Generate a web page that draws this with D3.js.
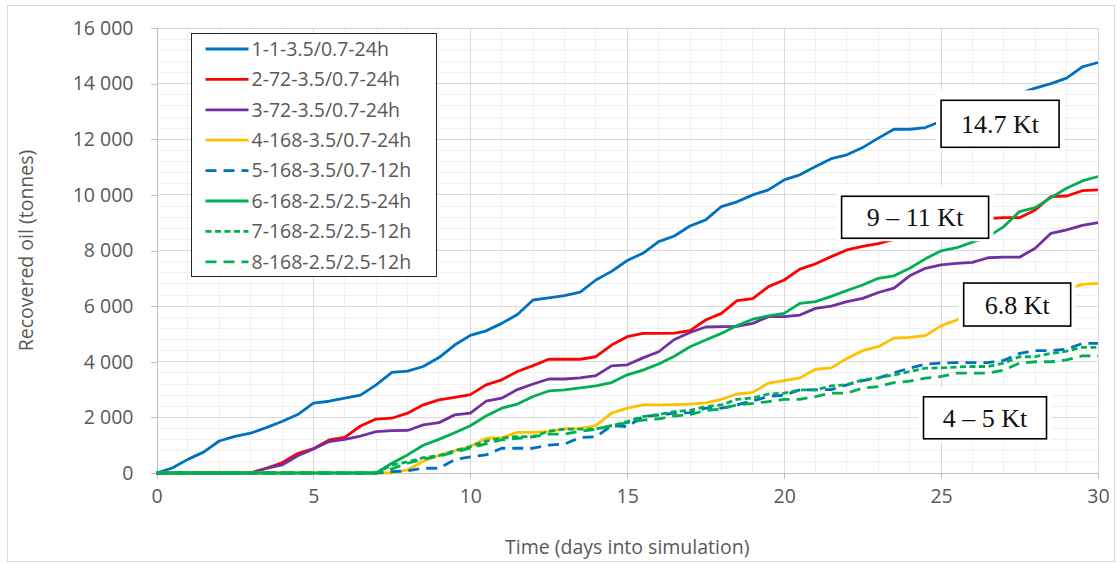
<!DOCTYPE html>
<html>
<head>
<meta charset="utf-8">
<script src="https://cdn.jsdelivr.net/npm/d3@7"></script>
<style>
  body { margin: 0; background: #fff; }
  svg { display: block; font-family: "Open Sans", sans-serif; }
</style>
</head>
<body>
<div id="chart"></div>
<script>
const width = 1120,
      height = 564;

// x values of every sample (days into simulation)
const days = [0, 0.5, 1, 1.5, 2, 2.5, 3, 3.5, 4, 4.5, 5, 5.5, 6, 6.5, 7, 7.5, 8, 8.5, 9, 9.5,
  10, 10.5, 11, 11.5, 12, 12.5, 13, 13.5, 14, 14.5, 15, 15.5, 16, 16.5, 17, 17.5, 18, 18.5, 19, 19.5,
  20, 20.5, 21, 21.5, 22, 22.5, 23, 23.5, 24, 24.5, 25, 25.5, 26, 26.5, 27, 27.5, 28, 28.5, 29, 29.5, 30];

const seriesNames = ["1-1-3.5/0.7-24h", "2-72-3.5/0.7-24h", "3-72-3.5/0.7-24h", "4-168-3.5/0.7-24h",
  "5-168-3.5/0.7-12h", "6-168-2.5/2.5-24h", "7-168-2.5/2.5-12h", "8-168-2.5/2.5-12h"];

const s1 = [0, 180, 490, 750, 1150, 1320, 1430, 1630, 1850, 2100, 2510, 2580, 2690, 2800, 3170, 3620, 3660, 3830, 4150, 4600,
  4950, 5110, 5380, 5700, 6220, 6300, 6380, 6500, 6940, 7250, 7640, 7900, 8320, 8520, 8880, 9100, 9580, 9750, 10000, 10180,
  10540, 10720, 11020, 11300, 11440, 11700, 12040, 12360, 12360, 12420, 12650, 12850, 13050, 13250, 13450, 13650, 13840, 14000, 14200, 14600, 14760];
const s2 = [0, 0, 0, 0, 0, 0, 0, 170, 370, 700, 875, 1190, 1280, 1690, 1940, 1970, 2150, 2450, 2630, 2720,
  2820, 3170, 3350, 3650, 3860, 4090, 4090, 4090, 4180, 4600, 4900, 5020, 5020, 5030, 5120, 5500, 5740, 6200, 6270, 6700,
  6940, 7330, 7520, 7780, 8020, 8150, 8250, 8400, 8550, 8650, 8800, 8900, 9050, 9150, 9180, 9180, 9460, 9940, 9960, 10150, 10180];
const s3 = [0, 0, 0, 0, 0, 0, 0, 170, 290, 620, 860, 1130, 1210, 1330, 1490, 1520, 1530, 1730, 1810, 2090,
  2150, 2580, 2690, 3000, 3200, 3380, 3380, 3420, 3500, 3850, 3890, 4140, 4360, 4800, 5050, 5250, 5260, 5270, 5380, 5620,
  5620, 5680, 5920, 6000, 6160, 6280, 6490, 6650, 7090, 7360, 7480, 7540, 7570, 7740, 7760, 7760, 8080, 8620, 8740, 8900, 9000];
const s4 = [0, 0, 0, 0, 0, 0, 0, 0, 0, 0, 0, 0, 0, 0, 0, 0, 110, 420, 640, 800,
  950, 1250, 1270, 1460, 1460, 1500, 1590, 1600, 1700, 2150, 2330, 2450, 2450, 2460, 2480, 2520, 2650, 2840, 2900, 3230,
  3320, 3420, 3730, 3780, 4120, 4400, 4540, 4850, 4880, 4940, 5290, 5500, 5750, 5950, 6150, 6300, 6450, 6550, 6600, 6780, 6820];
const s5 = [0, 0, 0, 0, 0, 0, 0, 0, 0, 0, 0, 0, 0, 0, 0, 50, 80, 170, 170, 480,
  580, 650, 890, 890, 890, 1000, 1040, 1280, 1300, 1700, 1670, 2030, 2080, 2150, 2170, 2330, 2330, 2450, 2600, 2750,
  2800, 2990, 2990, 3000, 3170, 3320, 3410, 3600, 3770, 3910, 3950, 3970, 3970, 3970, 4050, 4300, 4400, 4400, 4450, 4660, 4660];
const s6 = [0, 0, 0, 0, 0, 0, 0, 0, 0, 0, 0, 0, 0, 0, 0, 350, 650, 1000, 1210, 1450,
  1700, 2050, 2330, 2480, 2750, 2950, 2990, 3060, 3130, 3250, 3530, 3700, 3920, 4200, 4540, 4780, 5020, 5300, 5530, 5650,
  5740, 6100, 6160, 6350, 6560, 6760, 7000, 7090, 7360, 7700, 7990, 8100, 8300, 8500, 8860, 9400, 9540, 9900, 10240, 10500, 10660];
const s7 = [0, 0, 0, 0, 0, 0, 0, 0, 0, 0, 0, 0, 0, 0, 0, 290, 400, 550, 620, 800,
  950, 1150, 1250, 1310, 1310, 1500, 1580, 1580, 1580, 1700, 1850, 2030, 2100, 2210, 2250, 2390, 2450, 2650, 2700, 2840,
  2870, 2990, 2990, 3130, 3180, 3350, 3420, 3530, 3650, 3770, 3780, 3810, 3830, 3830, 3950, 4180, 4180, 4300, 4380, 4520, 4520];
const s8 = [0, 0, 0, 0, 0, 0, 0, 0, 0, 0, 0, 0, 0, 0, 0, 150, 350, 500, 600, 750,
  900, 1050, 1190, 1250, 1300, 1400, 1400, 1500, 1570, 1700, 1810, 1900, 1950, 2050, 2100, 2250, 2300, 2450, 2500, 2570,
  2650, 2650, 2750, 2870, 2870, 3050, 3110, 3250, 3300, 3410, 3470, 3590, 3590, 3590, 3700, 3950, 4000, 4000, 4070, 4210, 4210];

const seriesValues = [s1, s2, s3, s4, s5, s6, s7, s8];
const seriesColors = ["#0070C0", "#FF0000", "#7030A0", "#FFC000", "#0070C0", "#00B050", "#00B050", "#00B050"];
const seriesDash = [null, null, null, null, "11,7", null, "6,3.5", "11,7"];

const xTicks = [0, 5, 10, 15, 20, 25, 30];
const yTicks = [0, 2000, 4000, 6000, 8000, 10000, 12000, 14000, 16000];

// annotation boxes: text and the day / value of the box's left-top corner
const notes = [
  { text: "14.7 Kt", day: 25.0, val: 13400, w: 118, h: 47 },
  { text: "9 \u2013 11 Kt", day: 21.83, val: 9950, w: 147, h: 42 },
  { text: "6.8 Kt", day: 25.72, val: 6830, w: 107, h: 43 },
  { text: "4 \u2013 5 Kt", day: 24.44, val: 2740, w: 123, h: 42 }
];

const margin = { top: 28, right: 22, bottom: 91, left: 156.5 };

const x = d3.scaleLinear()
    .domain([0, 30])
    .range([margin.left, width - margin.right]);

const y = d3.scaleLinear()
    .domain([0, 16000])
    .range([height - margin.bottom, margin.top]);

const fmt = d3.formatLocale({ decimal: ".", thousands: " ", grouping: [3], currency: ["", ""] }).format(",");

const svg = d3.select("#chart")
  .append("svg")
    .attr("width", width)
    .attr("height", height);

// chart border
svg.append("rect")
    .attr("x", 7.5).attr("y", 5.5)
    .attr("width", width - 13).attr("height", height - 8)
    .attr("fill", "none")
    .attr("stroke", "#d9d9d9");

// minor gridlines
const grid = svg.append("g").attr("shape-rendering", "crispEdges");
grid.selectAll(".vminor")
  .data(d3.range(1, 30).filter(d => d % 5 !== 0))
  .enter().append("line")
    .attr("x1", x).attr("x2", x)
    .attr("y1", y(0)).attr("y2", y(16000))
    .attr("stroke", "#f0f0f0");
grid.selectAll(".hminor")
  .data(d3.range(400, 16000, 400).filter(d => d % 2000 !== 0))
  .enter().append("line")
    .attr("x1", x(0)).attr("x2", x(30))
    .attr("y1", y).attr("y2", y)
    .attr("stroke", "#f0f0f0");

// major gridlines
grid.selectAll(".vmajor")
  .data(xTicks.slice(1))
  .enter().append("line")
    .attr("x1", x).attr("x2", x)
    .attr("y1", y(0)).attr("y2", y(16000))
    .attr("stroke", "#d9d9d9");
grid.selectAll(".hmajor")
  .data(yTicks.slice(1))
  .enter().append("line")
    .attr("x1", x(0)).attr("x2", x(30))
    .attr("y1", y).attr("y2", y)
    .attr("stroke", "#d9d9d9");

// axes
const xAxis = svg.append("g")
    .attr("transform", `translate(0,${y(0)})`)
    .call(d3.axisBottom(x).tickValues(xTicks).tickSize(6).tickPadding(10));
const yAxis = svg.append("g")
    .attr("transform", `translate(${x(0)},0)`)
    .call(d3.axisLeft(y).tickValues(yTicks).tickSize(6).tickPadding(17).tickFormat(fmt));

[xAxis, yAxis].forEach(a => {
  a.selectAll("path, line").attr("stroke", "#bfbfbf").attr("shape-rendering", "crispEdges");
  a.selectAll("text").attr("fill", "#595959").style("font-size", "19.5px").style("font-family", "Open Sans");
});

// axis titles
svg.append("text")
    .attr("x", (x(0) + x(30)) / 2)
    .attr("y", 554)
    .attr("text-anchor", "middle")
    .attr("fill", "#595959")
    .style("font-size", "19.5px")
    .text("Time (days into simulation)");

svg.append("text")
    .attr("transform", `translate(33,${(y(0) + y(16000)) / 2}) rotate(-90)`)
    .attr("text-anchor", "middle")
    .attr("fill", "#595959")
    .style("font-size", "19.5px")
    .text("Recovered oil (tonnes)");

// series lines
const line = d3.line()
    .x((d, i) => x(days[i]))
    .y(d => y(d));

svg.append("g")
  .selectAll("path")
  .data(seriesValues)
  .enter().append("path")
    .attr("fill", "none")
    .attr("stroke", (d, i) => seriesColors[i])
    .attr("stroke-width", 2.8)
    .attr("stroke-linejoin", "round")
    .attr("stroke-dasharray", (d, i) => seriesDash[i])
    .attr("d", line);

// annotation boxes
const noteG = svg.append("g")
  .selectAll("g")
  .data(notes)
  .enter().append("g")
    .attr("transform", d => `translate(${x(d.day)},${y(d.val)})`);

noteG.append("rect")
    .attr("x", -5).attr("y", -10)
    .attr("width", d => d.w + 10).attr("height", d => d.h + 13)
    .attr("fill", "#fff");
noteG.append("rect")
    .attr("width", d => d.w).attr("height", d => d.h)
    .attr("fill", "#fff")
    .attr("stroke", "#000")
    .attr("stroke-width", 1.6);
noteG.append("text")
    .attr("x", d => d.w / 2)
    .attr("y", d => d.h / 2)
    .attr("dy", "0.35em")
    .attr("text-anchor", "middle")
    .attr("fill", "#111")
    .style("font-family", "Liberation Serif, Times New Roman, serif")
    .style("font-size", "26px")
    .text(d => d.text);

// legend
const legend = svg.append("g")
    .attr("transform", "translate(191.5,33.5)");

legend.append("rect")
    .attr("width", 245).attr("height", 243)
    .attr("fill", "#fff")
    .attr("stroke", "#262626")
    .attr("stroke-width", 1);

const item = legend.selectAll(".item")
  .data(seriesNames)
  .enter().append("g")
    .attr("transform", (d, i) => `translate(0,${15.5 + i * 30.4})`);

item.append("line")
    .attr("x1", 14).attr("x2", 57)
    .attr("stroke", (d, i) => seriesColors[i])
    .attr("stroke-width", 2.8)
    .attr("stroke-dasharray", (d, i) => seriesDash[i]);

item.append("text")
    .attr("x", 60)
    .attr("dy", "0.35em")
    .attr("fill", "#595959")
    .style("font-size", "19.5px")
    .text(d => d);
</script>
</body>
</html>
